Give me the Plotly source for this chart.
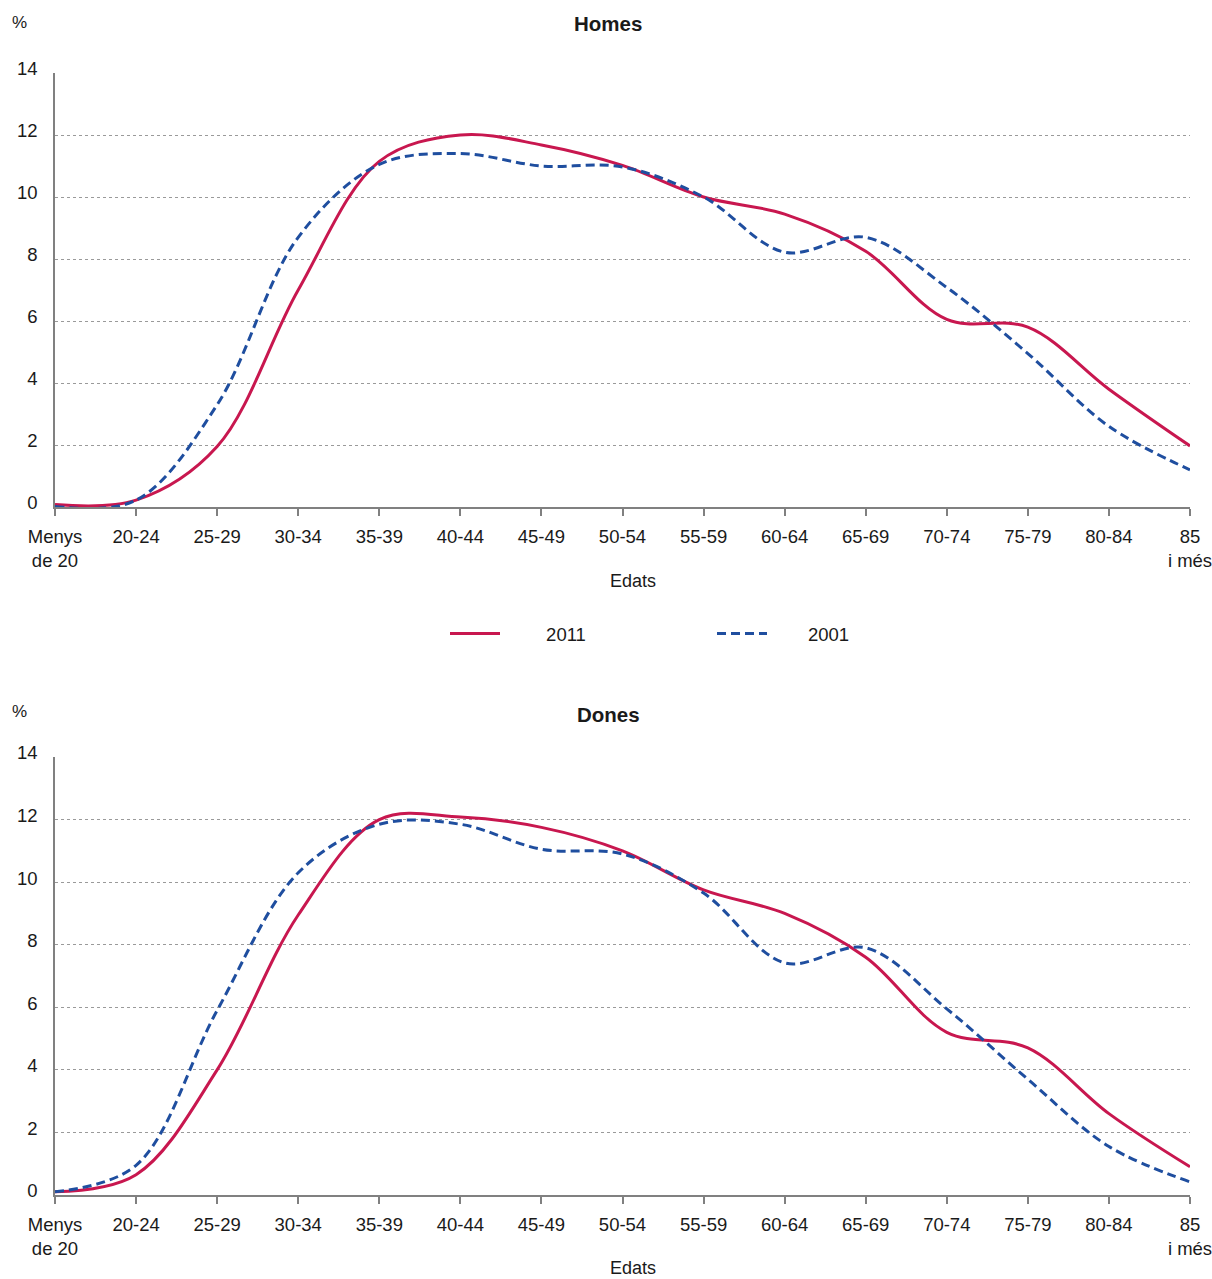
import plotly.graph_objects as go

ages = ["Menys<br>de 20", "20-24", "25-29", "30-34", "35-39", "40-44", "45-49",
        "50-54", "55-59", "60-64", "65-69", "70-74", "75-79", "80-84", "85<br>i més"]

homes_2011 = [0.08, 0.22, 1.95, 7.0, 11.15, 12.0, 11.68, 11.02, 10.0, 9.45, 8.25, 6.05, 5.8, 3.8, 1.97]
homes_2001 = [0.02, 0.22, 3.3, 8.7, 11.05, 11.4, 11.0, 10.97, 10.0, 8.22, 8.7, 7.08, 4.95, 2.6, 1.2]
dones_2011 = [0.1, 0.65, 4.0, 8.95, 12.0, 12.08, 11.75, 11.0, 9.75, 9.0, 7.6, 5.2, 4.7, 2.6, 0.9]
dones_2001 = [0.1, 0.95, 5.9, 10.3, 11.85, 11.85, 11.05, 10.9, 9.65, 7.42, 7.9, 5.95, 3.7, 1.55, 0.42]

y_ticks = [0, 2, 4, 6, 8, 10, 12, 14]

RED = "#C8174F"
BLUE = "#1F4E9F"
FONT = "Liberation Sans, Arial, Helvetica, sans-serif"
TXT = "#1a1a1a"

fig = go.Figure()

def add(y, name, color, dash, xa, ya, show):
    fig.add_trace(go.Scatter(
        x=ages, y=y, name=name, mode="lines",
        line=dict(color=color, width=3, dash=dash, shape="spline", smoothing=1.0),
        xaxis=xa, yaxis=ya, showlegend=show, hoverinfo="skip"))

add(homes_2011, "\u00a0" * 8 + "2011", RED, "solid", "x", "y", True)
add(homes_2001, "\u00a0" * 7 + "2001", BLUE, "9px,5px", "x", "y", True)
add(dones_2011, "2011", RED, "solid", "x2", "y2", False)
add(dones_2001, "2001", BLUE, "9px,5px", "x2", "y2", False)

W, H = 1212, 1279
L, T = 55, 73
R = W - 1190
B = H - 1195
ph = H - T - B
pw = W - L - R
def py(p):
    return (H - B - p) / ph
def px(p):
    return (p - L) / pw

xax = dict(type="category", range=[0, 14], showgrid=False, showline=True,
           linecolor="#808080", linewidth=1.5, ticks="outside", ticklen=7,
           tickcolor="#808080", tickwidth=1.5, ticklabelstandoff=5,
           tickfont=dict(size=18.5, color=TXT, family=FONT), zeroline=False,
           fixedrange=True, automargin=False)
yax = dict(range=[0, 14], tickvals=y_ticks, showgrid=True, gridcolor="#9a9a9a",
           griddash="dot", gridwidth=1, showline=True, linecolor="#808080",
           linewidth=1.5, ticks="", ticklabelstandoff=12, ticklabelshift=-4,
           tickfont=dict(size=18.5, color=TXT, family=FONT), zeroline=False,
           fixedrange=True, automargin=False)

fig.update_layout(
    width=W, height=H, autosize=False,
    margin=dict(l=L, r=R, t=T, b=B, autoexpand=False),
    paper_bgcolor="white", plot_bgcolor="white",
    font=dict(family=FONT, color=TXT, size=18),
    xaxis=dict(xax, domain=[0, 1], anchor="y"),
    yaxis=dict(yax, domain=[py(507), 1.0], anchor="x"),
    xaxis2=dict(xax, domain=[0, 1], anchor="y2"),
    yaxis2=dict(yax, domain=[0, py(757)], anchor="x2"),
    legend=dict(orientation="h", x=px(445), y=py(634), xanchor="left", yanchor="middle",
                itemwidth=50, entrywidth=202, entrywidthmode="pixels",
                font=dict(size=18.5, color=TXT, family=FONT), bgcolor="rgba(0,0,0,0)"),
)

ann = [
    dict(text="<b>Homes</b>", x=px(608), y=py(24), size=20.5),
    dict(text="<b>Dones</b>", x=px(608), y=py(714), size=20.5),
    dict(text="%", x=px(19), y=py(22), size=17),
    dict(text="%", x=px(19), y=py(711), size=17),
    dict(text="Edats", x=px(633), y=py(581), size=18),
    dict(text="Edats", x=px(633), y=py(1268), size=18),
]
for a in ann:
    fig.add_annotation(text=a["text"], x=a["x"], y=a["y"], xref="paper", yref="paper",
                       xanchor="center", yanchor="middle", showarrow=False,
                       font=dict(size=a["size"], color=TXT, family=FONT))

fig.write_html("out.html", config={"responsive": False, "displayModeBar": False},
               post_script="document.body.style.margin='0';document.body.style.overflow='hidden';")
